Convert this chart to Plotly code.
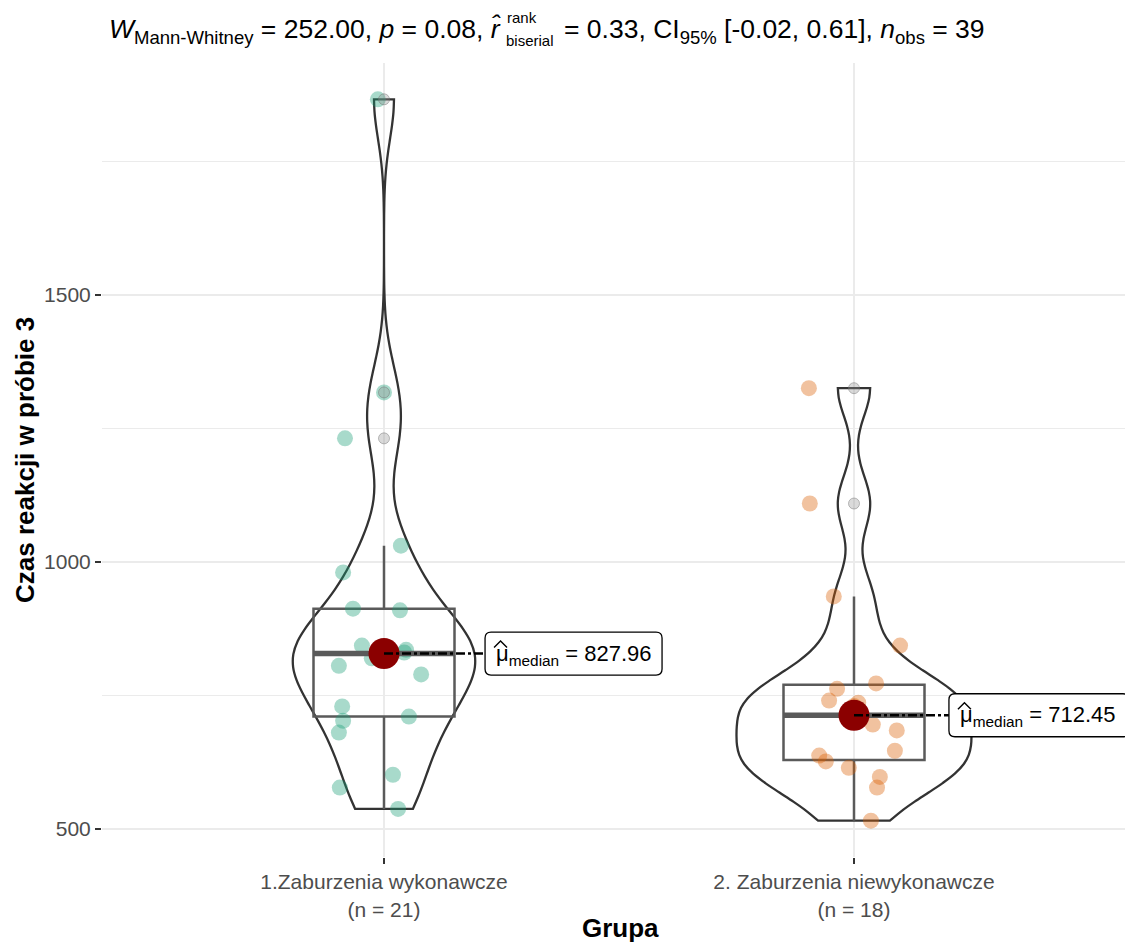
import numpy as np
import plotly.graph_objects as go

# ---------------- data ----------------
categories = ["1.Zaburzenia wykonawcze", "2. Zaburzenia niewykonawcze"]
group1 = [1866, 1317, 1231, 1030, 980, 912, 909, 843, 835, 830, 827.96, 819,
          805, 789, 729, 710, 702, 680, 601, 577, 537]
group2 = [1325, 1109, 935, 843, 772, 762, 740, 736, 729.9, 695, 684, 646,
          637, 626, 614, 597, 577, 515]
# horizontal jitter (category units)
jitter1 = [-0.013, 0.0, -0.083, 0.036, -0.087, -0.066, 0.034, -0.047, 0.047, 0.043,
           0.0, -0.026, -0.096, 0.079, -0.089, 0.053, -0.087, -0.096, 0.019, -0.094, 0.030]
jitter2 = [-0.096, -0.094, -0.043, 0.098, 0.047, -0.036, -0.053, 0.009, 0.0, 0.040,
           0.091, 0.087, -0.074, -0.060, -0.011, 0.055, 0.049, 0.036]
y_ticks = [500, 1000, 1500]
y_minor = [750, 1250, 1750]
stats_values = ["252.00", "0.08", "0.33", "[-0.02, 0.61]", "39"]

groups = [group1, group2]
jitters = [jitter1, jitter2]
point_colors = ["rgba(27,158,119,0.38)", "rgba(217,95,2,0.38)"]

FONT = "Liberation Sans, Arial, sans-serif"

# page has an 8px body margin; figure is sized to fit the window
OFF = 8
W, H = 1133 - OFF, 945 - OFF
# panel geometry in window pixels
PL, PR, PT, PB = 102, 1133, 63, 857
def px2x(px):
    return (px - PL) / (PR - PL)
def py2y(py):
    return (PB - py) / (PB - PT)


def bw_nrd0(v):
    v = np.asarray(v, float)
    sd = v.std(ddof=1)
    iqr = np.subtract(*np.percentile(v, [75, 25]))
    lo = min(sd, iqr / 1.34)
    return 0.9 * lo * len(v) ** (-0.2)


def max_density(v):
    v = np.asarray(v, float)
    bw = bw_nrd0(v)
    grid = np.linspace(v.min(), v.max(), 512)
    d = np.exp(-0.5 * ((grid[:, None] - v[None, :]) / bw) ** 2).sum(1) / (len(v) * bw * np.sqrt(2 * np.pi))
    return d.max()


maxd = [max_density(g) for g in groups]
violin_widths = [0.5 * m / max(maxd) for m in maxd]

fig = go.Figure()

# jittered points
for i, (g, j) in enumerate(zip(groups, jitters)):
    fig.add_trace(go.Scatter(
        x=[i + o for o in j], y=g, mode="markers",
        marker=dict(size=16, color=point_colors[i], line=dict(width=0)),
        hoverinfo="skip"))

# boxplots (stats computed from data, R type-7 quantiles)
for i, g in enumerate(groups):
    a = np.asarray(g, float)
    q1, med, q3 = np.percentile(a, [25, 50, 75])
    iqr = q3 - q1
    lo_f = a[a >= q1 - 1.5 * iqr].min()
    hi_f = a[a <= q3 + 1.5 * iqr].max()
    fig.add_trace(go.Box(
        x=[i], q1=[q1], median=[med], q3=[q3], lowerfence=[lo_f], upperfence=[hi_f],
        width=0.3, whiskerwidth=0, fillcolor="rgba(0,0,0,0)",
        line=dict(color="#5a5a5a", width=2.5), boxpoints=False, hoverinfo="skip"))
    # thicker median line
    fig.add_trace(go.Scatter(
        x=[i - 0.15, i + 0.15], y=[med, med], mode="lines",
        line=dict(color="#5a5a5a", width=5.5), hoverinfo="skip"))
    # outliers
    out = a[(a < q1 - 1.5 * iqr) | (a > q3 + 1.5 * iqr)]
    fig.add_trace(go.Scatter(
        x=[i] * len(out), y=out, mode="markers",
        marker=dict(size=11, color="rgba(150,150,150,0.35)",
                    line=dict(color="rgba(110,110,110,0.45)", width=1)),
        hoverinfo="skip"))

# violins
for i, g in enumerate(groups):
    fig.add_trace(go.Violin(
        x=[i] * len(g), y=g, width=violin_widths[i], spanmode="hard",
        bandwidth=bw_nrd0(g), points=False, fillcolor="rgba(0,0,0,0)",
        line=dict(color="#333333", width=2.3), box=dict(visible=False),
        meanline=dict(visible=False), hoverinfo="skip", scalegroup=f"g{i}"))

# medians: red dot, segment and label
label_off = [0.215, 0.202]       # label left edge offset (category units)
label_w = [177, 180]             # label box width, px
for i, g in enumerate(groups):
    med = float(np.median(g))
    fig.add_trace(go.Scatter(
        x=[i], y=[med], mode="markers",
        marker=dict(size=31, color="#8B0000", line=dict(width=0)), hoverinfo="skip"))
    fig.add_trace(go.Scatter(
        x=[i, i + label_off[i]], y=[med, med], mode="lines",
        line=dict(color="black", width=2.5, dash="dashdot"), hoverinfo="skip"))
    w, h, r = label_w[i], 43, 6
    hh = h / 2
    path = (f"M {r},{-hh} L {w - r},{-hh} Q {w},{-hh} {w},{-hh + r} "
            f"L {w},{hh - r} Q {w},{hh} {w - r},{hh} L {r},{hh} Q 0,{hh} 0,{hh - r} "
            f"L 0,{-hh + r} Q 0,{-hh} {r},{-hh} Z")
    fig.add_shape(type="path", xref="x", yref="y", xsizemode="pixel", ysizemode="pixel",
                  xanchor=i + label_off[i], yanchor=med, path=path,
                  fillcolor="white", line=dict(color="black", width=1.3), layer="above")
    fig.add_annotation(x=i + label_off[i], y=med, xref="x", yref="y",
                       xanchor="left", yanchor="middle", xshift=9, yshift=-1,
                       text=f"μ<sub>median</sub> = {med:.2f}", showarrow=False,
                       font=dict(family=FONT, size=22, color="black"))
    # wide hat over mu
    fig.add_shape(type="path", xref="x", yref="y", xsizemode="pixel", ysizemode="pixel",
                  xanchor=i + label_off[i], yanchor=med,
                  path="M 9,6 L 15.5,12.5 L 22,6", line=dict(color="black", width=1.4),
                  layer="above")

# title pieces
TS = 26.5
SS = 15
split = 503
fig.add_annotation(x=px2x(split), y=py2y(12), xref="paper", yref="paper",
                   xanchor="right", yanchor="top", showarrow=False,
                   text=f"<i>W</i><sub>Mann-Whitney</sub> = {stats_values[0]}, <i>p</i> = {stats_values[1]}, <i>r̂</i>",
                   font=dict(family=FONT, size=TS, color="black"))
fig.add_annotation(x=px2x(split + 2), y=py2y(18), xref="paper", yref="paper",
                   xanchor="left", yanchor="middle", showarrow=False, text="rank",
                   font=dict(family=FONT, size=SS, color="black"))
fig.add_annotation(x=px2x(split + 1), y=py2y(40), xref="paper", yref="paper",
                   xanchor="left", yanchor="middle", showarrow=False, text="biserial",
                   font=dict(family=FONT, size=SS, color="black"))
fig.add_annotation(x=px2x(split + 59), y=py2y(12), xref="paper", yref="paper",
                   xanchor="left", yanchor="top", showarrow=False,
                   text=f"= {stats_values[2]}, CI<sub>95%</sub> {stats_values[3]}, <i>n</i><sub>obs</sub> = {stats_values[4]}",
                   font=dict(family=FONT, size=TS, color="black"))

# axis titles
fig.add_annotation(x=px2x(620), y=py2y(928), xref="paper", yref="paper",
                   xanchor="center", yanchor="middle", showarrow=False,
                   text="<b>Grupa</b>", font=dict(family=FONT, size=26, color="black"))
fig.add_annotation(x=px2x(25), y=py2y(460), xref="paper", yref="paper",
                   xanchor="center", yanchor="middle", showarrow=False, textangle=-90,
                   text="<b>Czas reakcji w próbie 3</b>", font=dict(family=FONT, size=26, color="black"))

n_labels = [f"{c}<br>(n = {len(g)})" for c, g in zip(categories, groups)]

fig.update_layout(
    width=W, height=H, autosize=False,
    margin=dict(l=PL - OFF, r=0, t=PT - OFF, b=H - (PB - OFF), pad=0),
    plot_bgcolor="white", paper_bgcolor="white", showlegend=False,
    font=dict(family=FONT),
    xaxis=dict(range=[-0.6, -0.6 + (PR - PL) / 470], tickvals=[0, 1], ticktext=n_labels,
               ticks="outside", ticklen=6, tickwidth=2, tickcolor="#333333",
               tickfont=dict(size=21, color="#4D4D4D", family=FONT),
               showgrid=True, gridcolor="#EBEBEB", gridwidth=1.6,
               zeroline=False, showline=False),
    yaxis=dict(range=[447, 1934], tickvals=y_ticks, ticks="outside", ticklen=6,
               tickwidth=2, tickcolor="#333333", ticklabelstandoff=0,
               tickfont=dict(size=21, color="#4D4D4D", family=FONT),
               showgrid=True, gridcolor="#EBEBEB", gridwidth=1.6,
               minor=dict(tickvals=y_minor, showgrid=True, gridcolor="#EBEBEB",
                          gridwidth=0.9, ticks=""),
               zeroline=False, showline=False),
    violinmode="overlay", boxmode="overlay",
)

fig.write_html("out.html")
